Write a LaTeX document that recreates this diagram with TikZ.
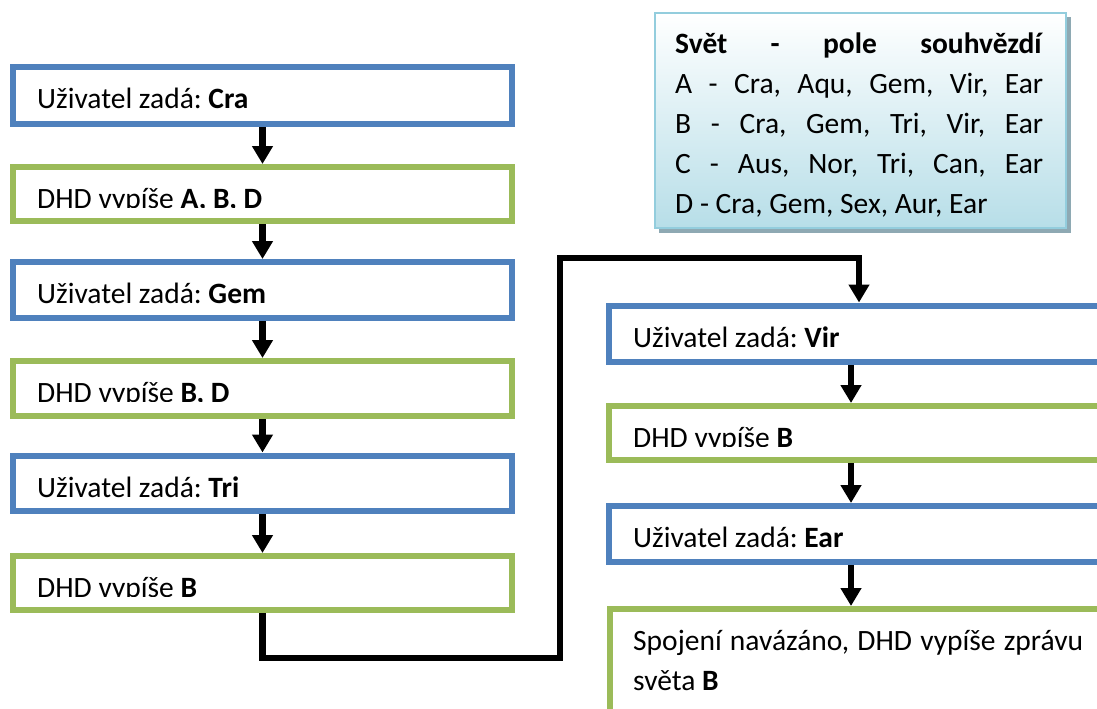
\documentclass[tikz,border=0pt]{standalone}
\usepackage{fontspec}
\setmainfont{Carlito}
\usetikzlibrary{arrows.meta}
\definecolor{bblue}{HTML}{4F81BD}
\definecolor{bgreen}{HTML}{9BBB59}
\definecolor{lborder}{HTML}{93CDDD}
\definecolor{lfill}{HTML}{B7DEE8}
\definecolor{lshadow}{HTML}{8EA9B3}
\frenchspacing
\begin{document}
\begin{tikzpicture}[x=1pt,y=-1pt,
  bluebox/.style={draw=bblue,line width=6pt,fill=white,inner sep=0pt,rectangle},
  greenbox/.style={draw=bgreen,line width=6pt,fill=white,inner sep=0pt,rectangle},
  legbox/.style={draw=lborder,line width=2.5pt,top color=white,bottom color=lfill,inner sep=0pt,rectangle},
  txt/.style={anchor=base west,inner sep=0pt,font=\fontsize{29.5}{40}\selectfont\frenchspacing},
  arr/.style={line width=6.5pt,line join=miter,-{Triangle[width=20pt,length=18pt]}}]
\useasboundingbox (0,0) rectangle (1097,709);
\clip (0,0) rectangle (1097,709);
% legend
\fill[lshadow] (659,17) rectangle (1071,233);
\node[legbox,minimum width=411pt,minimum height=215pt] (leg) at (860.5,120.5) {};
\node[txt] (l0) at (675,53) {\makebox[368pt][s]{\textbf{Svět - pole souhvězdí}}};
\node[txt] (l1) at (675,93) {\makebox[368pt][s]{A - Cra, Aqu, Gem, Vir, Ear}};
\node[txt] (l2) at (675,133) {\makebox[368pt][s]{B - Cra, Gem, Tri, Vir, Ear}};
\node[txt] (l3) at (675,173) {\makebox[368pt][s]{C - Aus, Nor, Tri, Can, Ear}};
\node[txt] (l4) at (675,213) {D - Cra, Gem, Sex, Aur, Ear};
% left column
\node[bluebox,minimum width=499pt,minimum height=57pt] (b1) at (262.5,95.5) {};
\node[greenbox,minimum width=499pt,minimum height=54pt] (b2) at (262.5,194) {};
\node[bluebox,minimum width=499pt,minimum height=56pt] (b3) at (262.5,290) {};
\node[greenbox,minimum width=499pt,minimum height=55pt] (b4) at (262.5,388.5) {};
\node[bluebox,minimum width=499pt,minimum height=55.5pt] (b5) at (262.5,483.25) {};
\node[greenbox,minimum width=499pt,minimum height=54pt] (b6) at (262.5,583) {};
\node[txt] (t1) at (37,108) {Uživatel zadá: \textbf{Cra}};
\begin{scope}
\clip (16,170) rectangle (509,207);
\node[txt] (t2) at (37,208) {DHD vypíše \textbf{A, B, D}};
\end{scope}
\node[txt] (t3) at (37,303) {Uživatel zadá: \textbf{Gem}};
\begin{scope}
\clip (16,364) rectangle (509,401);
\node[txt] (t4) at (37,402) {DHD vypíše \textbf{B, D}};
\end{scope}
\node[txt] (t5) at (37,497) {Uživatel zadá: \textbf{Tri}};
\begin{scope}
\clip (16,559) rectangle (509,596);
\node[txt] (t6) at (37,597) {DHD vypíše \textbf{B}};
\end{scope}
% right column
\node[bluebox,minimum width=511pt,minimum height=56.5pt] (r1) at (864.5,333.75) {};
\node[greenbox,minimum width=511pt,minimum height=54pt] (r2) at (864.5,433) {};
\node[bluebox,minimum width=511pt,minimum height=56pt] (r3) at (864.5,534) {};
\node[greenbox,minimum width=510pt,minimum height=142pt] (r4) at (865,680) {};
\node[txt] (s1) at (633,347) {Uživatel zadá: \textbf{Vir}};
\begin{scope}
\clip (612,409) rectangle (1097,446);
\node[txt] (s2) at (633,447) {DHD vypíše \textbf{B}};
\end{scope}
\node[txt] (s3) at (633,547) {Uživatel zadá: \textbf{Ear}};
\node[txt] (s4) at (633,650) {\makebox[450pt][s]{Spojení navázáno, DHD vypíše zprávu}};
\node[txt] (s5) at (633,690) {světa \textbf{B}};
% arrows
\coordinate (ax) at (851,0);
\coordinate (c1) at (560,658);
\coordinate (c2) at (859,258);
\draw[arr] (b1.south) -- (b2.north);
\draw[arr] (b2.south) -- (b3.north);
\draw[arr] (b3.south) -- (b4.north);
\draw[arr] (b4.south) -- (b5.north);
\draw[arr] (b5.south) -- (b6.north);
\draw[arr] (b6.south) |- (c1) |- (c2) -- (c2 |- r1.north);
\draw[arr] (r1.south -| ax) -- (r2.north -| ax);
\draw[arr] (r2.south -| ax) -- (r3.north -| ax);
\draw[arr] (r3.south -| ax) -- (r4.north -| ax);
\end{tikzpicture}
\end{document}
